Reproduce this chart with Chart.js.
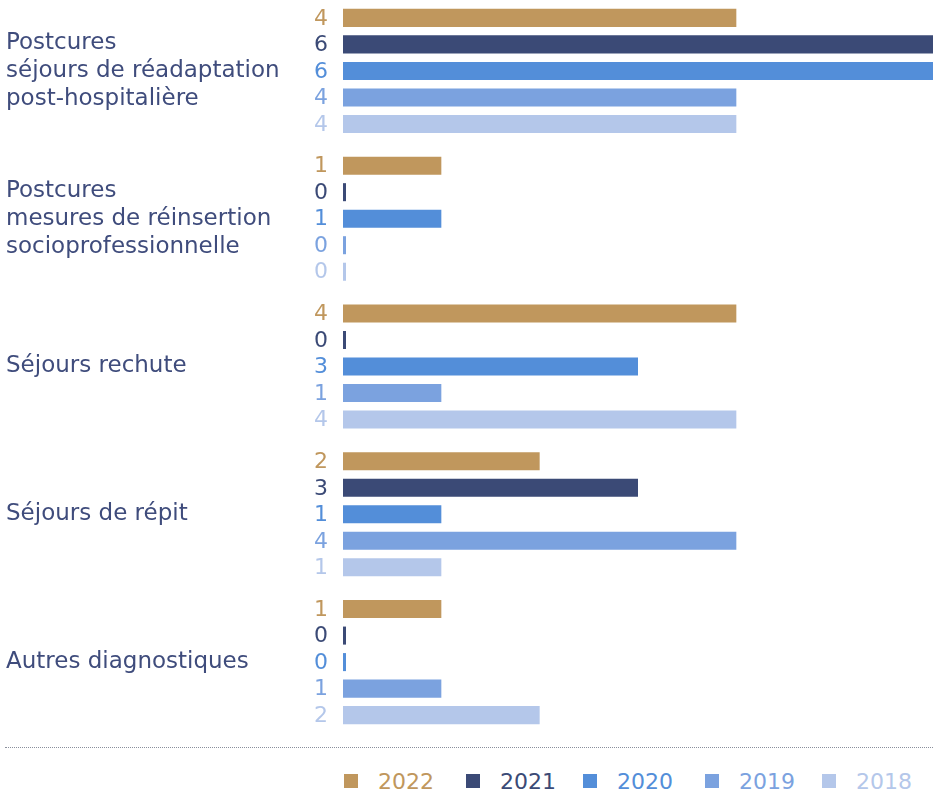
<!DOCTYPE html>
<html>
<head>
<meta charset="utf-8">
<script src="https://cdn.jsdelivr.net/npm/chart.js@4"></script>
<style>
  html, body { margin: 0; padding: 0; background: #fff; }
  body { width: 936px; height: 793px; position: relative; overflow: hidden; font-family: 'DejaVu Sans', sans-serif; }
  #wrap { position: absolute; left: 0; top: -3px; width: 936px; height: 739px; }
  #rule { position: absolute; left: 5px; top: 747px; width: 928px; border-top: 1px dotted #8a8f9c; }
  #legend { position: absolute; left: 0; top: 768px; width: 936px; height: 26px; }
  #legend .item { position: absolute; top: 0; display: flex; align-items: center; height: 26px; font-size: 22px; font-weight: 400; white-space: nowrap; }
  #legend .box { width: 14px; height: 14px; margin-right: 20px; }
</style>
</head>
<body>
<div id="wrap"><canvas id="chart"></canvas></div>
<div id="rule"></div>
<div id="legend"></div>
<script>
// Categories (multi-line labels)
const categories = [
  ['Postcures', 'séjours de réadaptation', 'post-hospitalière'],
  ['Postcures', 'mesures de réinsertion', 'socioprofessionnelle'],
  ['Séjours rechute'],
  ['Séjours de répit'],
  ['Autres diagnostiques']
];

const years = ['2022', '2021', '2020', '2019', '2018'];

// Values per year, one entry per category
const values2022 = [4, 1, 4, 2, 1];
const values2021 = [6, 0, 0, 3, 0];
const values2020 = [6, 1, 3, 1, 0];
const values2019 = [4, 0, 1, 4, 1];
const values2018 = [4, 0, 4, 1, 2];

const seriesColors = ['#C0975D', '#3B4A76', '#538ED9', '#7BA2DF', '#B4C7EA'];
const labelColor = '#3F4C7C';
const FONT = "'DejaVu Sans', sans-serif";

const allValues = [values2022, values2021, values2020, values2019, values2018];

// Draw the value of each bar to the left of the bar, in the series colour
const valueLabels = {
  id: 'valueLabels',
  afterDatasetsDraw(chart) {
    const ctx = chart.ctx;
    ctx.save();
    ctx.font = `400 22px ${FONT}`;
    ctx.textAlign = 'right';
    ctx.textBaseline = 'middle';
    chart.data.datasets.forEach((ds, i) => {
      const meta = chart.getDatasetMeta(i);
      meta.data.forEach((bar, j) => {
        ctx.fillStyle = ds.backgroundColor;
        ctx.fillText(String(ds.data[j]), chart.chartArea.left - 15, bar.y + 1);
      });
    });
    ctx.restore();
  }
};

const chart = new Chart(document.getElementById('chart'), {
  type: 'bar',
  data: {
    labels: categories,
    datasets: years.map((y, i) => ({
      label: y,
      data: allValues[i],
      backgroundColor: seriesColors[i],
      borderWidth: 0,
      categoryPercentage: 0.897,
      barPercentage: 0.68,
      minBarLength: 3
    }))
  },
  options: {
    indexAxis: 'y',
    responsive: true,
    maintainAspectRatio: false,
    animation: false,
    layout: { padding: { left: 6, right: 3, top: 0, bottom: 0 } },
    scales: {
      x: {
        display: false,
        min: 0,
        max: 6
      },
      y: {
        grid: { display: false, drawTicks: false },
        border: { display: false },
        afterFit(scale) {
          scale.width = 337;
          // multi-line labels should not push the bars inward
          scale.paddingTop = 0;
          scale.paddingBottom = 0;
        },
        ticks: {
          crossAlign: 'far',
          padding: 6,
          color: labelColor,
          font: { family: FONT, size: 23, weight: 400, lineHeight: 1.22 }
        }
      }
    },
    plugins: {
      legend: { display: false },
      tooltip: { enabled: false }
    }
  },
  plugins: [valueLabels]
});

// HTML legend below the dotted rule
const legendLeft = [344, 466, 583, 705, 822];
const legendEl = document.getElementById('legend');
years.forEach((y, i) => {
  const item = document.createElement('div');
  item.className = 'item';
  item.style.left = legendLeft[i] + 'px';
  item.style.color = seriesColors[i];
  item.innerHTML = `<span class="box" style="background:${seriesColors[i]}"></span>${y}`;
  legendEl.appendChild(item);
});
</script>
</body>
</html>
